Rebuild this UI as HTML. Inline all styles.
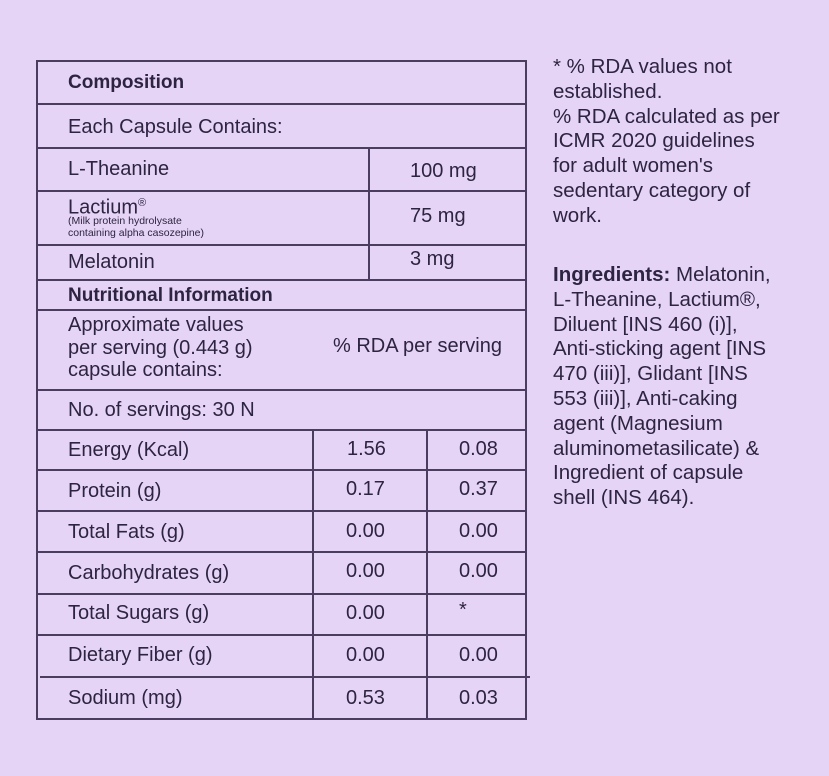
<!DOCTYPE html>
<html><head><style>
body{margin:0;width:829px;height:776px;background:#e6d4f6;position:relative;overflow:hidden;font-family:"Liberation Sans",sans-serif;color:#2c2440}
.h{position:absolute;height:2px;background:#4a3d60}
.v{position:absolute;width:2px;background:#4a3d60}
.t{position:absolute;font-size:20px;white-space:nowrap;line-height:24px}
.b{font-weight:bold;font-size:19px}
.r{position:absolute;left:553px;font-size:20.5px;line-height:24.8px;color:#2c2440;white-space:nowrap}
</style></head><body>
<div class="h" style="left:37px;width:490px;top:60px"></div>
<div class="h" style="left:37px;width:490px;top:103px"></div>
<div class="h" style="left:37px;width:490px;top:147px"></div>
<div class="h" style="left:37px;width:490px;top:190px"></div>
<div class="h" style="left:37px;width:490px;top:244px"></div>
<div class="h" style="left:37px;width:490px;top:279px"></div>
<div class="h" style="left:37px;width:490px;top:309px"></div>
<div class="h" style="left:37px;width:490px;top:389px"></div>
<div class="h" style="left:37px;width:490px;top:429px"></div>
<div class="h" style="left:37px;width:490px;top:469px"></div>
<div class="h" style="left:37px;width:490px;top:510px"></div>
<div class="h" style="left:37px;width:490px;top:551px"></div>
<div class="h" style="left:37px;width:490px;top:593px"></div>
<div class="h" style="left:37px;width:490px;top:634px"></div>
<div class="h" style="left:40px;width:490px;top:676px"></div>
<div class="h" style="left:37px;width:490px;top:718px"></div>
<div class="v" style="left:36px;top:60px;height:660px"></div>
<div class="v" style="left:525px;top:60px;height:660px"></div>
<div class="v" style="left:368px;top:147px;height:133px"></div>
<div class="v" style="left:312px;top:429px;height:290px"></div>
<div class="v" style="left:426px;top:429px;height:290px"></div>

<div class="t b" style="left:68px;top:71px">Composition</div>
<div class="t" style="left:68px;top:115px">Each Capsule Contains:</div>
<div class="t" style="left:68px;top:157px">L-Theanine</div>
<div class="t" style="left:410px;top:159px">100 mg</div>
<div class="t" style="left:68px;top:192px;line-height:22px">Lactium<sup style="font-size:11px">®</sup></div>
<div class="t" style="left:68px;top:216px;font-size:10.5px;line-height:11.5px">(Milk protein hydrolysate<br>containing alpha casozepine)</div>
<div class="t" style="left:410px;top:204px">75 mg</div>
<div class="t" style="left:68px;top:250px">Melatonin</div>
<div class="t" style="left:410px;top:247px">3 mg</div>
<div class="t b" style="left:68px;top:284px">Nutritional Information</div>
<div class="t" style="left:68px;top:314px;line-height:22.5px">Approximate values<br>per serving (0.443 g)<br>capsule contains:</div>
<div class="t" style="left:333px;top:334px">% RDA per serving</div>
<div class="t" style="left:68px;top:398px">No. of servings: 30 N</div>

<div class="t" style="left:68px;top:438px">Energy (Kcal)</div><div class="t" style="left:347px;top:437px">1.56</div><div class="t" style="left:459px;top:437px">0.08</div>
<div class="t" style="left:68px;top:479px">Protein (g)</div><div class="t" style="left:346px;top:477px">0.17</div><div class="t" style="left:459px;top:477px">0.37</div>
<div class="t" style="left:68px;top:520px">Total Fats (g)</div><div class="t" style="left:346px;top:519px">0.00</div><div class="t" style="left:459px;top:519px">0.00</div>
<div class="t" style="left:68px;top:561px">Carbohydrates (g)</div><div class="t" style="left:346px;top:559px">0.00</div><div class="t" style="left:459px;top:559px">0.00</div>
<div class="t" style="left:68px;top:601px">Total Sugars (g)</div><div class="t" style="left:346px;top:601px">0.00</div><div class="t" style="left:459px;top:598px">*</div>
<div class="t" style="left:68px;top:643px">Dietary Fiber (g)</div><div class="t" style="left:346px;top:643px">0.00</div><div class="t" style="left:459px;top:643px">0.00</div>
<div class="t" style="left:68px;top:686px">Sodium (mg)</div><div class="t" style="left:346px;top:686px">0.53</div><div class="t" style="left:459px;top:686px">0.03</div>

<div class="r" style="top:55px">* % RDA values not<br>established.<br>% RDA calculated as per<br>ICMR 2020 guidelines<br>for adult women's<br>sedentary category of<br>work.</div>
<div class="r" style="top:263px"><b>Ingredients:</b> Melatonin,<br>L-Theanine, Lactium®,<br>Diluent [INS 460 (i)],<br>Anti-sticking agent [INS<br>470 (iii)], Glidant [INS<br>553 (iii)], Anti-caking<br>agent (Magnesium<br>aluminometasilicate) &amp;<br>Ingredient of capsule<br>shell (INS 464).</div>
</body></html>
